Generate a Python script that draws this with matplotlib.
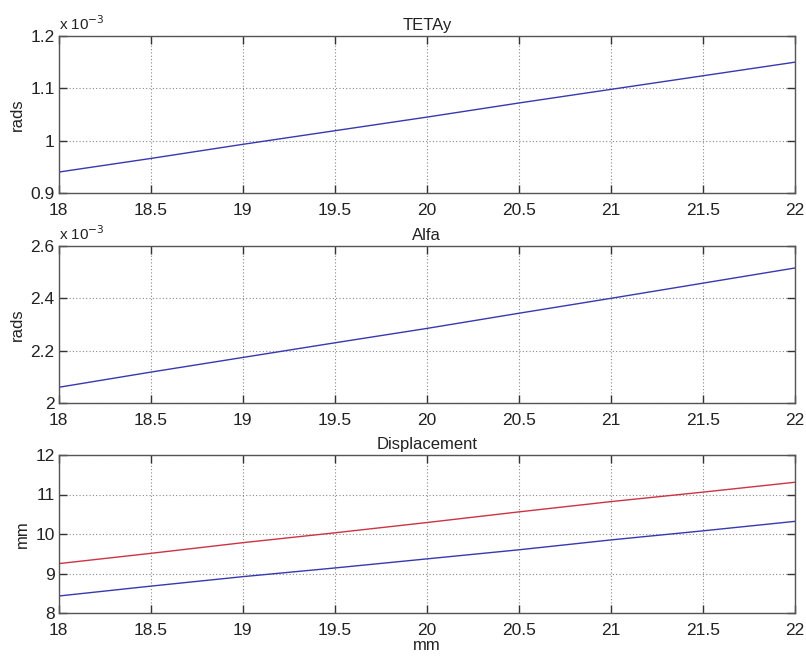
import matplotlib.pyplot as plt
from matplotlib.ticker import FormatStrFormatter

plt.rcParams['font.family'] = ['Liberation Sans', 'DejaVu Sans']

# datos
x = [18, 18.5, 19, 19.5, 20, 20.5, 21, 21.5, 22]
tetay = [0.940, 0.966, 0.993, 1.019, 1.045, 1.072, 1.098, 1.124, 1.150]  # x 10^-3 rads
alfa = [2.060, 2.118, 2.174, 2.230, 2.285, 2.343, 2.400, 2.458, 2.516]   # x 10^-3 rads
disp_rojo = [9.25, 9.51, 9.78, 10.03, 10.29, 10.56, 10.82, 11.06, 11.31]
disp_azul = [8.43, 8.68, 8.92, 9.14, 9.37, 9.60, 9.85, 10.08, 10.32]

W, H = 806, 656
fig = plt.figure(figsize=(W/100, H/100), dpi=100)

def caja(top, bottom):
    left, right = 58.7, 795
    return [left/W, 1-bottom/H, (right-left)/W, (bottom-top)/H]

ax1 = fig.add_axes(caja(36, 193))
ax2 = fig.add_axes(caja(246, 403))
ax3 = fig.add_axes(caja(455, 613))

ax1.plot(x, tetay, color='#3838b0', lw=1)
ax2.plot(x, alfa, color='#3838b0', lw=1)
ax3.plot(x, disp_rojo, color='#cc3344', lw=1)
ax3.plot(x, disp_azul, color='#3838b0', lw=1)

ax1.set_ylim(0.9, 1.2)
ax1.set_yticks([0.9, 1.0, 1.1, 1.2])
ax2.set_ylim(2.0, 2.6)
ax2.set_yticks([2.0, 2.2, 2.4, 2.6])
ax3.set_ylim(8, 12)
ax3.set_yticks([8, 9, 10, 11, 12])

for ax, titulo, ylab in [(ax1, 'TETAy', 'rads'), (ax2, 'Alfa', 'rads'), (ax3, 'Displacement', 'mm')]:
    ax.set_xlim(18, 22)
    ax.set_xticks(x)
    ax.xaxis.set_major_formatter(FormatStrFormatter('%g'))
    ax.yaxis.set_major_formatter(FormatStrFormatter('%g'))
    ax.tick_params(direction='in', length=6, width=1, top=True, right=True,
                   labelsize=12.5, colors='#333333', labelcolor='#222222', pad=3)
    ax.tick_params(axis='x', pad=7)
    ax.grid(True, linestyle=(0, (1, 2)), color='#888888', lw=0.8)
    for s in ax.spines.values():
        s.set_color('#555555')
        s.set_linewidth(1)
    ax.set_title(titulo, fontsize=12, pad=4, color='#222222')
    ax.set_ylabel(ylab, fontsize=12, labelpad=4, color='#222222')

ax3.set_xlabel('mm', fontsize=12, labelpad=0, color='#222222')

# factor de escala estilo matlab
for ax in [ax1, ax2]:
    ax.text(0.0, 1.02, r'x 10$^{-3}$', transform=ax.transAxes, fontsize=11,
            ha='left', va='bottom', color='#222222')

plt.savefig('out.png', dpi=100)
